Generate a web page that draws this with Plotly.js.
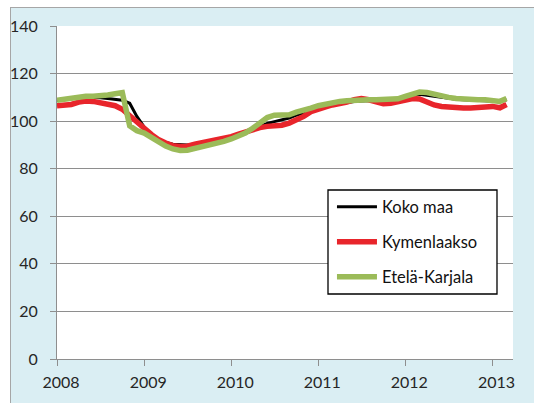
<!DOCTYPE html>
<html>
<head>
<meta charset="utf-8">
<script src="https://cdn.plot.ly/plotly-3.0.1.min.js"></script>
<style>
  html, body { margin: 0; padding: 0; background: #ffffff; width: 534px; height: 403px; overflow: hidden; }
  #frame { position: absolute; left: 10px; top: 7px; width: 524px; height: 396px; background: #DAEEF3;
           border-left: 1px solid #A6A6A6; border-top: 1px solid #A6A6A6; box-sizing: border-box; }
  #chart { position: absolute; left: 0px; top: 0px; width: 534px; height: 403px; }
</style>
</head>
<body>
<div id="frame"></div>
<div id="chart"></div>
<script>
// Monthly index, Jan 2008 .. Mar 2013
const firstYear = 2008;
const monthCount = 63;
const months = [];
for (let i = 0; i < monthCount; i++) {
  const y = firstYear + Math.floor(i / 12);
  const m = (i % 12) + 1;
  months.push(y + '-' + (m < 10 ? '0' + m : m) + '-01');
}

const seriesNames = ['Koko maa', 'Kymenlaakso', 'Etelä-Karjala'];

const kokoMaa = [
  108.8, 109.3, 109.8, 110.0, 110.0, 110.0, 109.8, 109.5, 109.2, 108.8, 107.5, 102.0,
  97.5, 94.5, 92.5, 91.0, 90.3, 90.0, 90.0, 90.4, 91.0, 91.5, 92.0, 92.6,
  93.5, 94.5, 95.5, 96.8, 98.0, 99.0, 99.8, 100.5, 101.3, 102.5, 103.5, 104.5,
  105.5, 106.3, 107.0, 107.5, 108.0, 108.3, 108.5, 108.6, 108.6, 108.8, 109.0, 109.5,
  110.3, 111.0, 111.3, 111.0, 110.5, 110.0, 109.5, 109.2, 109.0, 108.9, 108.8, 108.8,
  108.6, 108.3, 109.0
];

const kymenlaakso = [
  106.5, 106.5, 107.0, 108.0, 108.5, 108.3, 107.8, 107.3, 106.5, 105.0, 102.5, 99.5,
  97.0, 94.3, 92.3, 90.8, 89.7, 89.3, 89.5, 90.3, 91.0, 91.2, 91.8, 92.5,
  93.5, 94.5, 95.5, 96.5, 97.3, 97.8, 98.0, 98.3, 99.2, 100.5, 102.0, 104.0,
  105.3, 106.0, 106.8, 107.3, 108.0, 109.0, 109.5, 109.0, 108.0, 107.3, 107.5, 108.3,
  109.0, 109.5, 109.3, 108.0, 106.8, 106.2, 105.8, 105.6, 105.5, 105.5, 105.6, 105.8,
  106.2, 105.6, 107.0
];

const etelaKarjala = [
  108.8, 109.3, 110.0, 110.5, 110.5, 110.5, 110.6, 111.0, 111.5, 112.0, 98.0, 96.0,
  95.0, 93.0, 91.0, 89.5, 88.3, 87.7, 87.8, 88.5, 89.0, 89.8, 90.5, 91.5,
  92.5, 93.5, 95.0, 97.0, 99.5, 101.5, 102.5, 102.7, 102.7, 103.8, 104.5, 105.5,
  106.5, 107.2, 107.8, 108.3, 108.6, 108.9, 109.0, 109.0, 109.0, 109.0, 109.0, 109.4,
  110.4, 111.5, 112.2, 112.0, 111.2, 110.5, 110.0, 109.5, 109.2, 109.0, 109.0, 109.0,
  108.8, 108.3, 109.5
];

const yTicks = [0, 20, 40, 60, 80, 100, 120, 140];
const xTickYears = ['2008', '2009', '2010', '2011', '2012', '2013'];

const FONT = 'Lato, "Open Sans", sans-serif';
const gridCol = '#8E8E8E';

const traces = [
  { x: months, y: kokoMaa, name: seriesNames[0], type: 'scatter', mode: 'lines',
    line: { color: '#000000', width: 3 }, legend: 'legend' },
  { x: months, y: kymenlaakso, name: seriesNames[1], type: 'scatter', mode: 'lines',
    line: { color: '#E8252B', width: 5.5 }, legend: 'legend2' },
  { x: months, y: etelaKarjala, name: seriesNames[2], type: 'scatter', mode: 'lines',
    line: { color: '#9BBB59', width: 5.5 }, legend: 'legend3' }
];

function legendAt(yPos) {
  return {
    x: 0.603, xanchor: 'left', y: yPos, yanchor: 'middle',
    bgcolor: 'rgba(0,0,0,0)', borderwidth: 0,
    font: { family: FONT, size: 16.5, color: '#111111' },
    itemwidth: 40, itemclick: false, itemdoubleclick: false
  };
}

const layout = {
  width: 534, height: 403,
  margin: { l: 57, r: 21, t: 26, b: 44 },
  paper_bgcolor: 'rgba(0,0,0,0)',
  plot_bgcolor: '#FFFFFF',
  font: { family: FONT, size: 16, color: '#262626' },
  showlegend: true,
  legend: legendAt(0.4565),
  legend2: legendAt(0.3514),
  legend3: legendAt(0.2462),
  xaxis: {
    type: 'date',
    range: ['2008-01-01', '2013-03-28'],
    tickvals: xTickYears.map(y => y + '-01-01'),
    ticktext: xTickYears,
    showgrid: false, zeroline: false,
    showline: true, linecolor: gridCol, linewidth: 1,
    ticks: 'outside', ticklen: 6, tickcolor: gridCol,
    tickfont: { family: FONT, size: 16, color: '#262626' },
    ticklabelshift: 4,
    ticklabelstandoff: 3
  },
  yaxis: {
    range: [0, 140],
    tickvals: yTicks,
    showgrid: true, gridcolor: gridCol, gridwidth: 1,
    zeroline: false,
    showline: true, linecolor: gridCol, linewidth: 1,
    ticks: 'outside', ticklen: 6, tickcolor: gridCol,
    tickfont: { family: FONT, size: 16, color: '#262626' },
    ticklabelstandoff: 9
  },
  shapes: [
    { type: 'rect', xref: 'paper', yref: 'paper', x0: 0.5943, x1: 0.9649, y0: 0.1952, y1: 0.5075,
      line: { color: '#000000', width: 1.3 }, fillcolor: '#FFFFFF', layer: 'above' }
  ]
};

Plotly.newPlot('chart', traces, layout, { displayModeBar: false, staticPlot: true });
</script>
</body>
</html>
